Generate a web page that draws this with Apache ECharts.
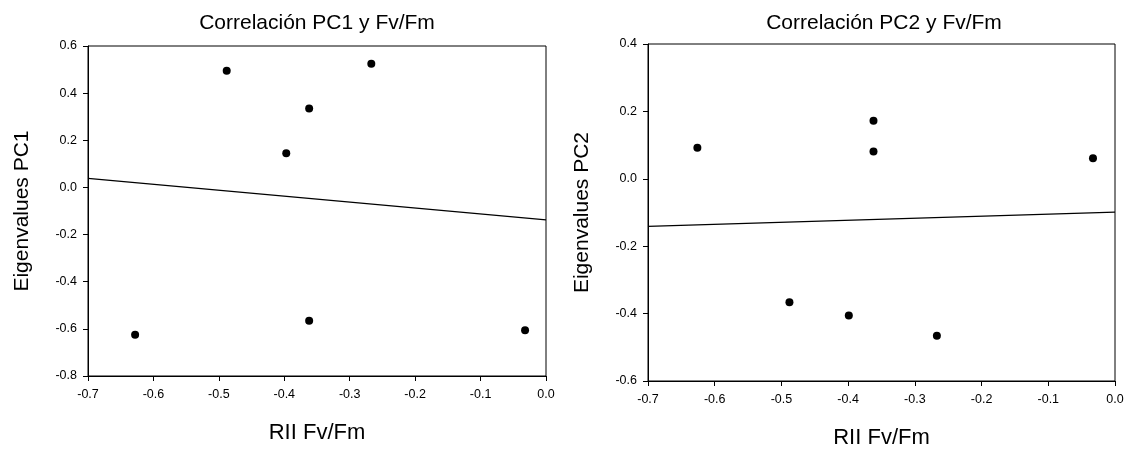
<!DOCTYPE html>
<html>
<head>
<meta charset="utf-8">
<script src="https://cdn.jsdelivr.net/npm/echarts@6/dist/echarts.min.js"></script>
<style>
  html, body { margin: 0; padding: 0; background: #fff; }
  #chart { width: 1129px; height: 457px; }
</style>
</head>
<body>
<div id="chart"></div>
<script>
// RII Fv/Fm (eje x) y eigenvalues de cada componente
const riiPC1 = [-0.488, -0.267, -0.362, -0.397, -0.628, -0.362, -0.032]
const eigenPC1 = [0.495, 0.525, 0.335, 0.145, -0.625, -0.566, -0.606]
const riiPC2 = [-0.626, -0.362, -0.362, -0.033, -0.488, -0.399, -0.267]
const eigenPC2 = [0.092, 0.172, 0.081, 0.061, -0.366, -0.406, -0.466]
const fitX = [-0.7, 0.0]
const fitPC1 = [0.038, -0.138]
const fitPC2 = [-0.141, -0.099]

const font = "'Liberation Sans', Arial, sans-serif"
const pairs = (xs, ys) => xs.map((x, i) => [x, ys[i]])

const echart = echarts.init(document.getElementById('chart'))

function xAxisOf (idx) {
  return {
    gridIndex: idx,
    type: 'value',
    min: -0.7,
    max: 0,
    interval: 0.1,
    name: 'RII Fv/Fm',
    nameLocation: 'middle',
    nameGap: 46,
    nameTextStyle: { color: '#000', fontSize: 22, fontFamily: font },
    axisLine: { show: true, onZero: false, lineStyle: { color: '#000', width: 1 } },
    axisTick: { show: true, length: 5, lineStyle: { color: '#000' } },
    axisLabel: {
      color: '#000', fontSize: 12.5, fontFamily: font, margin: 12,
      formatter: v => v.toFixed(1)
    },
    splitLine: { show: false }
  }
}

function yAxisOf (idx, name, min, max) {
  return {
    gridIndex: idx,
    type: 'value',
    min: min,
    max: max,
    interval: 0.2,
    name: name,
    nameLocation: 'middle',
    nameGap: 55,
    nameTextStyle: { color: '#000', fontSize: 21, fontFamily: font },
    axisLine: { show: true, onZero: false, lineStyle: { color: '#000', width: 1 } },
    axisTick: { show: true, length: 5, lineStyle: { color: '#000' } },
    axisLabel: {
      color: '#000', fontSize: 12.5, fontFamily: font, margin: 11,
      formatter: v => v.toFixed(1)
    },
    splitLine: { show: false }
  }
}

let option = {
  backgroundColor: '#fff',
  animation: false,
  title: [
    {
      text: 'Correlación PC1 y Fv/Fm', left: 312, top: 8, textAlign: 'center',
      textStyle: { color: '#000', fontSize: 21, fontWeight: 'normal', fontFamily: font }
    },
    {
      text: 'Correlación PC2 y Fv/Fm', left: 879, top: 8, textAlign: 'center',
      textStyle: { color: '#000', fontSize: 21, fontWeight: 'normal', fontFamily: font }
    }
  ],
  grid: [
    { left: 88, right: 583, top: 46, bottom: 81, show: true, borderColor: '#000', borderWidth: 1 },
    { left: 648, right: 14, top: 44, bottom: 76, show: true, borderColor: '#000', borderWidth: 1 }
  ],
  xAxis: [xAxisOf(0), xAxisOf(1)],
  yAxis: [
    yAxisOf(0, 'Eigenvalues PC1', -0.8, 0.6),
    yAxisOf(1, 'Eigenvalues PC2', -0.6, 0.4)
  ],
  series: [
    {
      type: 'line', xAxisIndex: 0, yAxisIndex: 0,
      data: pairs(fitX, fitPC1), showSymbol: false, symbol: 'none',
      lineStyle: { color: '#000', width: 1.2 }, z: 2
    },
    {
      type: 'scatter', xAxisIndex: 0, yAxisIndex: 0,
      data: pairs(riiPC1, eigenPC1), symbolSize: 8,
      itemStyle: { color: '#000', opacity: 1 }, z: 3
    },
    {
      type: 'line', xAxisIndex: 1, yAxisIndex: 1,
      data: pairs(fitX, fitPC2), showSymbol: false, symbol: 'none',
      lineStyle: { color: '#000', width: 1.2 }, z: 2
    },
    {
      type: 'scatter', xAxisIndex: 1, yAxisIndex: 1,
      data: pairs(riiPC2, eigenPC2), symbolSize: 8,
      itemStyle: { color: '#000', opacity: 1 }, z: 3
    }
  ]
}
echart.setOption(option)
</script>
</body>
</html>
